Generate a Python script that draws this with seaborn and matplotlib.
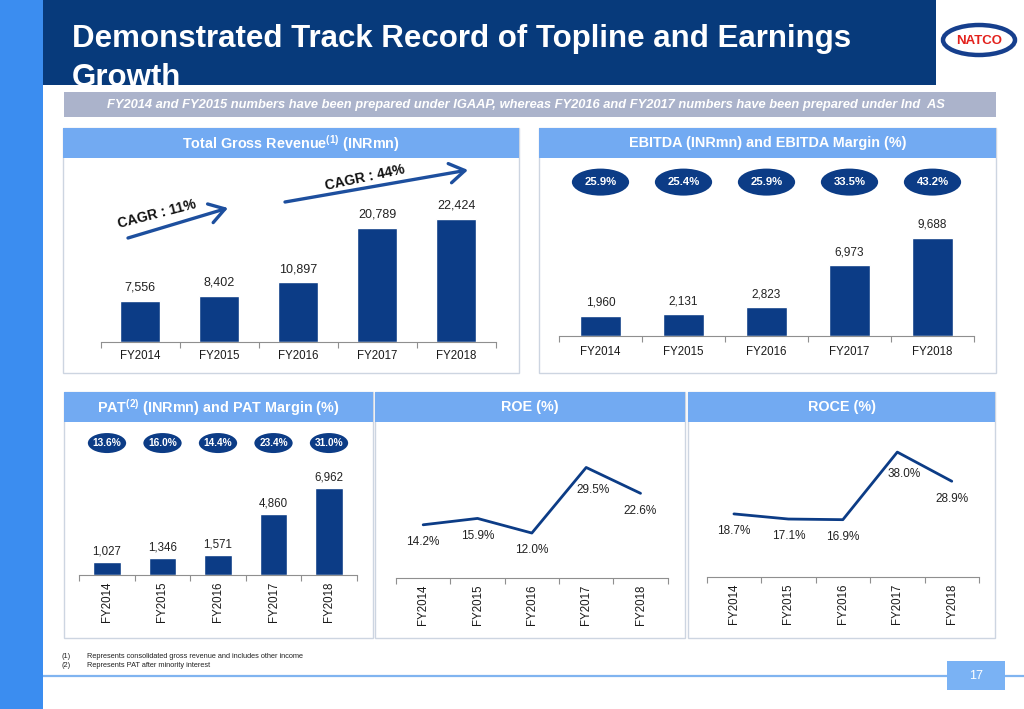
import numpy as np
import matplotlib
matplotlib.use("Agg")
import matplotlib.pyplot as plt
from matplotlib.patches import Rectangle, Ellipse
import seaborn as sns

# ---------------- data ----------------
years = ["FY2014", "FY2015", "FY2016", "FY2017", "FY2018"]
revenue = [7556, 8402, 10897, 20789, 22424]
ebitda = [1960, 2131, 2823, 6973, 9688]
ebitda_margin = [25.9, 25.4, 25.9, 33.5, 43.2]
pat = [1027, 1346, 1571, 4860, 6962]
pat_margin = [13.6, 16.0, 14.4, 23.4, 31.0]
roe = [14.2, 15.9, 12.0, 29.5, 22.6]
roce = [18.7, 17.1, 16.9, 38.0, 28.9]
cagr_labels = ["CAGR : 11%", "CAGR : 44%"]

# ---------------- style ----------------
sns.set_theme(style="white")
plt.rcParams["font.family"] = ["Liberation Sans", "DejaVu Sans"]
plt.rcParams["mathtext.fontset"] = "custom"
plt.rcParams["mathtext.rm"] = "Liberation Sans"
plt.rcParams["mathtext.bf"] = "Liberation Sans:bold"

NAVY_BAND = "#073a7b"
STRIP = "#3b8df0"
HDR = "#72aaf2"
SUB_BAND = "#abb3cb"
BAR = "#0c3c86"
ARROW = "#1d4f9e"
BORDER = "#cdd5e1"
AXCOL = "#8f8f8f"
TXT = "#222222"

W, H = 1024, 709
fig = plt.figure(figsize=(W / 100, H / 100), dpi=100)
fig.patch.set_facecolor("white")

bg = fig.add_axes([0, 0, 1, 1], zorder=0)
bg.set_xlim(0, W)
bg.set_ylim(H, 0)
bg.axis("off")


def rect(x0, y0, x1, y1, **kw):
    bg.add_patch(Rectangle((x0, y0), x1 - x0, y1 - y0, **kw))


# left strip and header
rect(0, 0, 43, H, facecolor=STRIP, edgecolor="none")
rect(43, 0, 936, 85, facecolor=NAVY_BAND, edgecolor="none")
bg.text(72, 47, "Demonstrated Track Record of Topline and Earnings", color="white",
        fontsize=22.5, fontweight="bold", va="baseline", ha="left")
bg.text(72, 85.5, "Growth", color="white", fontsize=22.5, fontweight="bold", va="baseline", ha="left")

# logo
bg.add_patch(Ellipse((979, 40), 72, 30, facecolor="white", edgecolor="#163f8d", lw=3.2))
bg.text(979, 40.5, "NATCO", color="#e3211c", fontsize=9.5, fontweight="bold",
        ha="center", va="center", family=["Liberation Sans Narrow", "Liberation Sans", "DejaVu Sans"])

# subtitle band
rect(64, 92, 996, 117, facecolor=SUB_BAND, edgecolor="none")
bg.text(526, 105, "FY2014 and FY2015 numbers have been prepared under IGAAP, whereas FY2016 and FY2017 "
        "numbers have been prepared under Ind  AS", color="white", fontsize=9.3, fontweight="bold",
        style="italic", ha="center", va="center")

# panels
panels = [
    (63, 128, 519, 373, r"Total Gross Revenue$^{\mathbf{(1)}}$ (INRmn)"),
    (539, 128, 996, 373, "EBITDA (INRmn) and EBITDA Margin (%)"),
    (64, 392, 373, 638, r"PAT$^{\mathbf{(2)}}$ (INRmn) and PAT Margin (%)"),
    (375, 392, 685, 638, "ROE (%)"),
    (688, 392, 995, 638, "ROCE (%)"),
]
for x0, y0, x1, y1, title in panels:
    rect(x0, y0, x1, y1, facecolor="white", edgecolor=BORDER, lw=1)
    rect(x0, y0, x1, y0 + 30, facecolor=HDR, edgecolor="none")
    bg.text((x0 + x1) / 2, y0 + 15.5, title, color="white", fontsize=10.4, fontweight="bold",
            ha="center", va="center")

# footnotes and footer
bg.text(62, 656, "(1)", fontsize=5.3, color=TXT, va="center")
bg.text(87, 656, "Represents consolidated gross revenue and includes other income", fontsize=5.3,
        color=TXT, va="center")
bg.text(62, 665.5, "(2)", fontsize=5.3, color=TXT, va="center")
bg.text(87, 665.5, "Represents PAT after minority interest", fontsize=5.3, color=TXT, va="center")
bg.plot([43, W], [675.5, 675.5], color="#80b4f0", lw=1.6, solid_capstyle="butt")
rect(947, 661, 1005, 690, facecolor="#7ab2f4", edgecolor="none", zorder=3)
bg.text(976, 676, "17", color="white", fontsize=9, ha="center", va="center", zorder=4)


# ---------------- chart axes ----------------
def add_ax(x0, y0, x1, y1):
    return fig.add_axes([x0 / W, 1 - y1 / H, (x1 - x0) / W, (y1 - y0) / H],
                        facecolor="none", zorder=2)


def style_axis(ax, rotate=False, fs=8.3, pad=6):
    for s in ["top", "left", "right"]:
        ax.spines[s].set_visible(False)
    ax.spines["bottom"].set_color(AXCOL)
    ax.spines["bottom"].set_linewidth(0.8)
    ax.set_yticks([])
    ax.set_ylabel("")
    ax.set_xlabel("")
    ax.set_xlim(-0.5, 4.5)
    ax.set_xticks(range(len(years)))
    ax.set_xticklabels(years, rotation=90 if rotate else 0, fontsize=fs, color="#1a1a1a")
    ax.set_xticks(np.arange(-0.5, len(years), 1.0), minor=True)
    ax.tick_params(axis="x", which="major", length=0, pad=pad)
    ax.tick_params(axis="x", which="minor", length=4, width=0.8, color=AXCOL,
                   direction="out", bottom=True)
    ax.grid(False)


def bar_labels(ax, vals, fs, off):
    for i, v in enumerate(vals):
        ax.annotate(f"{v:,}", (i, v), xytext=(0, off), textcoords="offset points",
                    ha="center", va="center", fontsize=fs, color=TXT)


def margin_bubbles(ax, vals, yfrac, w, h, fs):
    tr = ax.get_xaxis_transform()
    for i, m in enumerate(vals):
        ax.add_patch(Ellipse((i, yfrac), w, h, transform=tr, facecolor=BAR,
                             edgecolor="none", clip_on=False))
        ax.text(i, yfrac, f"{m:.1f}%", transform=tr, ha="center", va="center",
                color="white", fontsize=fs, fontweight="bold")


# Revenue
ax1 = add_ax(100.5, 170, 495.5, 342)
sns.barplot(x=years, y=revenue, ax=ax1, color=BAR, width=0.5, saturation=1, errorbar=None)
ax1.set_ylim(0, 31400)
style_axis(ax1)
bar_labels(ax1, revenue, 9, 9.5)

# CAGR arrows (slide decorations)
for (xa, ya, xb, yb), (tx, ty, rot), lab in zip(
        [(128, 238, 228, 208), (285, 202, 468, 170)],
        [(157, 214, 14.5), (365, 178, 12)], cagr_labels):
    bg.annotate("", xy=(xb, yb), xytext=(xa, ya),
                arrowprops=dict(arrowstyle="->,head_length=0.55,head_width=0.35",
                                lw=2.4, color=ARROW, shrinkA=0, shrinkB=0,
                                mutation_scale=20), zorder=5)
    bg.text(tx, ty, lab, rotation=rot, ha="center", va="center", fontsize=10,
            fontweight="bold", color="#111111", rotation_mode="anchor", zorder=5)

# EBITDA
ax2 = add_ax(559, 165, 974, 336)
sns.barplot(x=years, y=ebitda, ax=ax2, color=BAR, width=0.49, saturation=1, errorbar=None)
ax2.set_ylim(0, 16900)
style_axis(ax2, pad=7)
bar_labels(ax2, ebitda, 8.5, 9.5)
margin_bubbles(ax2, ebitda_margin, 0.90, 0.69, 0.158, 8.2)

# PAT
ax3 = add_ax(79.25, 430, 356.75, 575)
sns.barplot(x=years, y=pat, ax=ax3, color=BAR, width=0.5, saturation=1, errorbar=None)
ax3.set_ylim(0, 11640)
style_axis(ax3, rotate=True, pad=5)
bar_labels(ax3, pat, 8.3, 8)
margin_bubbles(ax3, pat_margin, 0.91, 0.69, 0.138, 7.3)


def line_panel(ax, vals, ylim):
    sns.lineplot(x=years, y=vals, ax=ax, color=BAR, linewidth=2.0, sort=False)
    ax.set_ylim(*ylim)
    style_axis(ax, rotate=True, pad=5)
    top = int(np.argmax(vals))
    for i, v in enumerate(vals):
        dx, dy = (5, -16) if i == top else (0, -12.5)
        ax.annotate(f"{v:.1f}%", (i, v), xytext=(dx, dy), textcoords="offset points",
                    ha="center", va="center", fontsize=8.5, color=TXT)


ax4 = add_ax(396, 430, 667.7, 578)
line_panel(ax4, roe, (0, 39.5))

ax5 = add_ax(706.7, 430, 979, 577)
line_panel(ax5, roce, (-1.0, 44.9))

fig.savefig("out.png", dpi=100)
